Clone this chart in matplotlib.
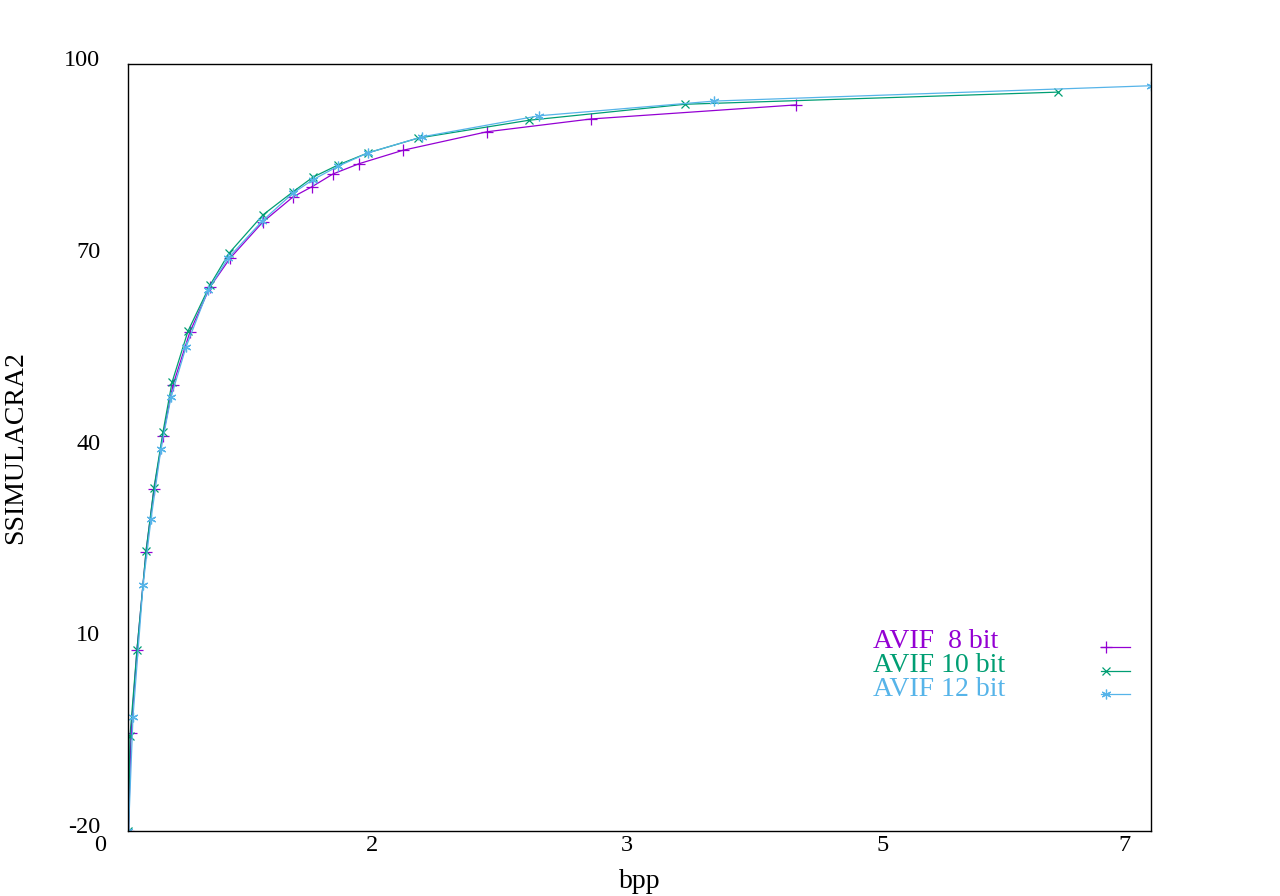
import matplotlib
matplotlib.use("Agg")
import matplotlib.pyplot as plt
import matplotlib.transforms as mtransforms
from matplotlib.lines import Line2D

plt.rcParams['font.family'] = ['Liberation Serif', 'DejaVu Serif']

series_labels = ["AVIF  8 bit", "AVIF 10 bit", "AVIF 12 bit"]
series_colors = ["#9400d3", "#009e73", "#56b4e9"]
series_markers = ["+", "x", (6, 2, 0)]
series_msizes = [8, 6, 7]

bpp_8 = [0.0035, 0.021, 0.063, 0.127, 0.183, 0.246, 0.317, 0.436, 0.577, 0.718,
         0.950, 1.161, 1.295, 1.443, 1.626, 1.935, 2.527, 3.259, 4.701]
ssim_8 = [-20.0, -4.7, 8.3, 23.7, 33.5, 41.8, 49.8, 58.1, 65.1, 69.6,
          75.3, 79.2, 80.8, 82.8, 84.4, 86.5, 89.4, 91.4, 93.6]

bpp_10 = [0.0035, 0.014, 0.063, 0.127, 0.183, 0.246, 0.310, 0.422, 0.577, 0.711,
          0.950, 1.161, 1.302, 1.478, 1.689, 2.041, 2.822, 3.920, 6.545]
ssim_10 = [-20.0, -5.1, 8.3, 23.8, 33.7, 42.4, 50.2, 58.2, 65.4, 70.4,
           76.4, 80.0, 82.3, 84.2, 86.1, 88.4, 91.2, 93.7, 95.6]

bpp_12 = [0.0035, 0.035, 0.106, 0.162, 0.232, 0.303, 0.408, 0.563, 0.704,
          0.943, 1.161, 1.302, 1.478, 1.689, 2.069, 2.893, 4.124, 7.200]
ssim_12 = [-20.0, -2.2, 18.5, 28.8, 39.8, 47.9, 55.7, 64.6, 69.6,
           75.4, 79.8, 81.9, 84.0, 86.1, 88.6, 91.9, 94.2, 96.6]

x_tick_values = [0.0, 1.72, 3.51, 5.31, 7.01]
x_tick_labels = ["0", "2", "3", "5", "7"]
y_tick_values = [-20, 10, 40, 70, 100]
y_tick_labels = ["-20", "10", "40", "70", "100"]

fig = plt.figure(figsize=(12.8, 8.96), dpi=100)
ax = fig.add_axes([128/1280, 1 - 831/896, (1151-128)/1280, (831-64)/896])

data = [(bpp_8, ssim_8), (bpp_10, ssim_10), (bpp_12, ssim_12)]
for (xs, ys), c, m, ms in zip(data, series_colors, series_markers, series_msizes):
    ax.plot(xs, ys, color=c, lw=0.9, marker=m, markersize=ms, markeredgewidth=0.9,
            clip_on=True)

ax.set_xticks(x_tick_values)
ax.set_xticklabels(x_tick_labels, fontsize=17.5)
ax.set_yticks(y_tick_values)
ax.set_yticklabels(y_tick_labels, fontsize=17.5)
ax.set_xlim(0, 7.2)
ax.set_ylim(-20, 100)
ax.tick_params(axis='y', length=0, pad=20)
ax.tick_params(axis='x', length=0, pad=3)
offset = mtransforms.ScaledTranslation(0, 6/100, fig.dpi_scale_trans)
for lbl in ax.get_yticklabels():
    lbl.set_transform(lbl.get_transform() + offset)
xlbls = ax.get_xticklabels()
xlbls[0].set_transform(xlbls[0].get_transform() +
                       mtransforms.ScaledTranslation(-28/100, 0, fig.dpi_scale_trans))
for sp in ax.spines.values():
    sp.set_linewidth(1.0)

ax.set_xlabel("bpp", fontsize=20, labelpad=9)
ax.set_ylabel("SSIMULACRA2", fontsize=20, labelpad=26)

# legend, drawn in axes coordinates
leg_text_x = (873-128)/1023
leg_line_x0 = (1101-128)/1023
leg_line_x1 = (1130-128)/1023
leg_marker_x = (1106-128)/1023
text_rows = [642, 665, 689]
line_rows = [647, 671, 694]
for lab, c, m, ms, ty, ly in zip(series_labels, series_colors, series_markers,
                                 series_msizes, text_rows, line_rows):
    yt = (831-ty)/767
    yl = (831-ly)/767
    ax.text(leg_text_x, yt, lab, color=c, fontsize=20, transform=ax.transAxes,
            ha='left', va='center')
    ax.add_line(Line2D([leg_line_x0, leg_line_x1], [yl, yl], color=c, lw=0.9,
                       transform=ax.transAxes))
    ax.add_line(Line2D([leg_marker_x], [yl], color=c, marker=m, markersize=ms,
                       markeredgewidth=0.9, transform=ax.transAxes))

fig.savefig("out.png", dpi=100)
